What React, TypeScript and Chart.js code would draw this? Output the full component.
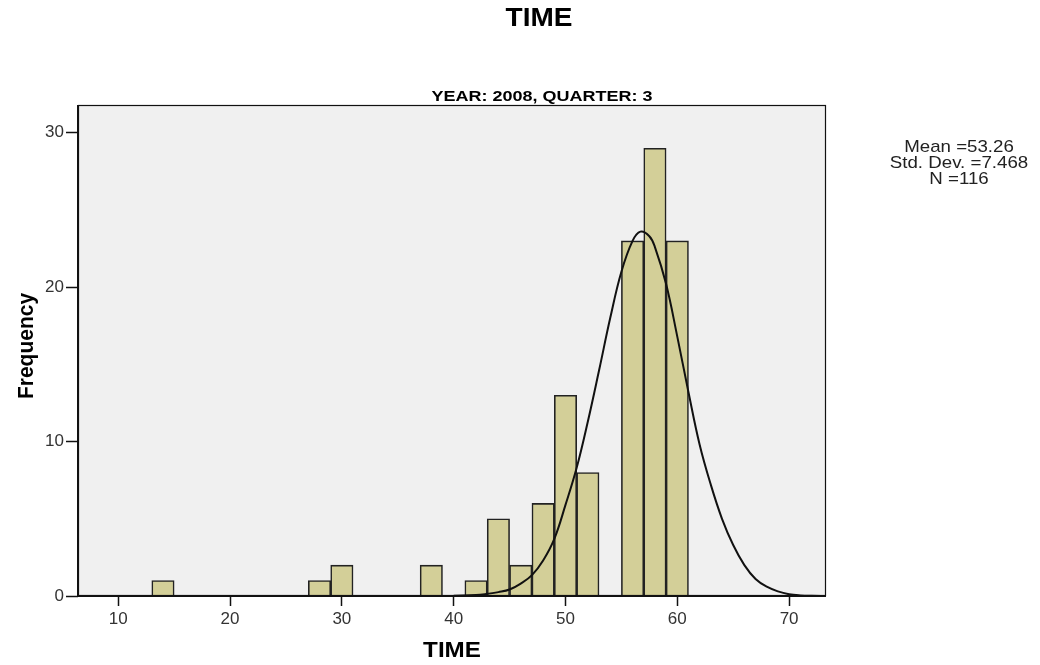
import React, { useEffect, useRef } from "react";
import { Chart, registerables } from "chart.js";

Chart.register(...registerables);

const binCenters = [14, 28, 30, 38, 42, 44, 46, 48, 50, 52, 56, 58, 60];
const frequencies = [1, 1, 2, 2, 1, 5, 2, 6, 13, 8, 23, 29, 23];

const curveX = [40, 42, 43, 44, 45, 46, 47, 48, 49, 50, 51, 52, 53, 54, 55, 56, 56.7, 57.5, 58, 59, 60, 61, 62, 63, 64, 65, 66, 67, 68, 69, 70, 71, 72, 73.3];
const curveY = [0.01, 0.06, 0.14, 0.25, 0.42, 0.8, 1.35, 2.3, 3.7, 5.9, 8.3, 11.3, 14.6, 18.0, 21.0, 23.0, 23.6, 23.3, 22.6, 20.2, 16.8, 13.2, 9.8, 7.2, 5.0, 3.3, 2.0, 1.1, 0.6, 0.3, 0.12, 0.04, 0.01, 0];

const xTicks = [10, 20, 30, 40, 50, 60, 70];
const yTicks = [0, 10, 20, 30];

const chartTitle = "TIME";
const panelTitle = "YEAR: 2008, QUARTER: 3";
const xTitle = "TIME";
const yTitle = "Frequency";
const statsLines = ["Mean =53.26", "Std. Dev. =7.468", "N =116"];

const FONT = '"Liberation Sans", Arial, sans-serif';

function stretchedText(ctx: CanvasRenderingContext2D, text: string, x: number, y: number, font: string, sx: number, color: string, rot = 0) {
  ctx.save();
  ctx.translate(x, y);
  if (rot) ctx.rotate(rot);
  if (rot) ctx.scale(1, sx);
  else ctx.scale(sx, 1);
  ctx.font = font;
  ctx.fillStyle = color;
  ctx.textAlign = "center";
  ctx.textBaseline = "middle";
  ctx.fillText(text, 0, 0);
  ctx.restore();
}

const decorPlugin = {
  id: "decor",
  beforeDraw(chart: any) {
    const { ctx, chartArea: a } = chart;
    ctx.save();
    ctx.fillStyle = "#ffffff";
    ctx.fillRect(0, 0, chart.width, chart.height);
    ctx.fillStyle = "#f0f0f0";
    ctx.fillRect(a.left, a.top, a.right - a.left, a.bottom - a.top);
    ctx.restore();
  },
  afterDraw(chart: any) {
    const { ctx, chartArea: a } = chart;
    ctx.save();
    ctx.strokeStyle = "#111";
    ctx.lineWidth = 1.2;
    ctx.strokeRect(a.left + 0.5, a.top + 0.5, a.right - a.left - 1, a.bottom - a.top - 1);
    ctx.lineWidth = 2;
    ctx.beginPath();
    ctx.moveTo(a.left, a.bottom);
    ctx.lineTo(a.right, a.bottom);
    ctx.moveTo(a.left, a.top);
    ctx.lineTo(a.left, a.bottom);
    ctx.stroke();
    ctx.restore();

    stretchedText(ctx, chartTitle, 539, 19, `bold 25px ${FONT}`, 1.12, "#000");
    stretchedText(ctx, panelTitle, 542, 97, `bold 15px ${FONT}`, 1.2, "#000");
    stretchedText(ctx, xTitle, 452, 651, `bold 22px ${FONT}`, 1.1, "#000");
    stretchedText(ctx, yTitle, 27, 346, `bold 21px ${FONT}`, 1.07, "#000", -Math.PI / 2);
    statsLines.forEach((t, i) => {
      stretchedText(ctx, t, 959, 147 + i * 16, `17px ${FONT}`, 1.1, "#222");
    });
  },
};

export default function App() {
  const ref = useRef<HTMLCanvasElement | null>(null);

  useEffect(() => {
    document.body.style.margin = "0";
    const canvas = ref.current;
    if (!canvas) return;
    const chart = new Chart(canvas, {
      type: "bar",
      data: {
        datasets: [
          {
            type: "line",
            data: curveX.map((x, i) => ({ x, y: curveY[i] })),
            borderColor: "#111",
            borderWidth: 2,
            pointRadius: 0,
            tension: 0.4,
            fill: false,
            order: 0,
          } as any,
          {
            type: "bar",
            data: binCenters.map((x, i) => ({ x, y: frequencies[i] })),
            backgroundColor: "#d3cf98",
            borderColor: "#222",
            borderWidth: 1.6,
            barPercentage: 1,
            categoryPercentage: 1,
            order: 1,
          } as any,
        ],
      },
      options: {
        responsive: false,
        animation: false,
        events: [],
        layout: { padding: { top: 105, right: 214, left: 0, bottom: 0 } },
        plugins: {
          legend: { display: false },
          tooltip: { enabled: false },
          title: { display: false },
        },
        scales: {
          x: {
            type: "linear",
            min: 6.4,
            max: 73.3,
            offset: false,
            afterBuildTicks: (s: any) => {
              s.ticks = xTicks.map((v) => ({ value: v }));
            },
            afterFit: (s: any) => {
              s.height = 69;
            },
            grid: {
              display: true,
              offset: false,
              drawOnChartArea: false,
              drawTicks: true,
              tickLength: 10,
              tickColor: "#111",
              tickWidth: 1.5,
            },
            border: { display: false },
            ticks: {
              padding: 3,
              color: "#333",
              font: { family: FONT, size: 17 },
              maxRotation: 0,
              autoSkip: false,
            },
          },
          y: {
            type: "linear",
            min: 0,
            max: 31.8,
            afterBuildTicks: (s: any) => {
              s.ticks = yTicks.map((v) => ({ value: v }));
            },
            afterFit: (s: any) => {
              s.width = 78;
            },
            grid: {
              display: true,
              offset: false,
              drawOnChartArea: false,
              drawTicks: true,
              tickLength: 12,
              tickColor: "#111",
              tickWidth: 1.5,
            },
            border: { display: false },
            ticks: {
              padding: 2,
              color: "#333",
              font: { family: FONT, size: 17 },
              autoSkip: false,
            },
          },
        },
      } as any,
      plugins: [decorPlugin],
    });
    return () => chart.destroy();
  }, []);

  return (
    <div style={{ width: 1040, height: 665 }}>
      <canvas ref={ref} width={1040} height={665} style={{ display: "block" }} />
    </div>
  );
}
